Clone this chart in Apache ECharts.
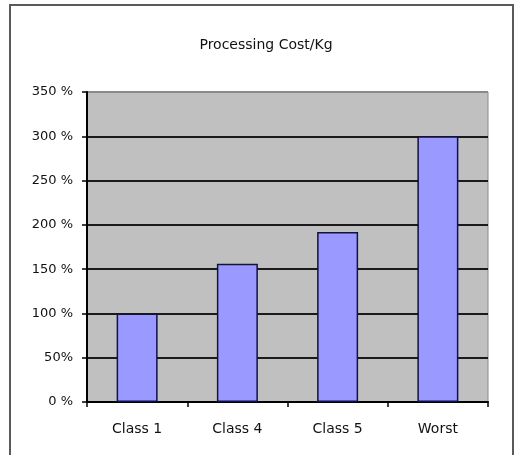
<!DOCTYPE html>
<html>
<head>
<meta charset="utf-8">
<style>
  html, body { margin: 0; padding: 0; background: #ffffff; }
  #chart { width: 515px; height: 455px; }
</style>
<script src="https://cdn.jsdelivr.net/npm/echarts@6/dist/echarts.min.js"></script>
</head>
<body>
<div id="chart"></div>
<script>
// Relative processing cost per kilogram, by class
const categories = ['Class 1', 'Class 4', 'Class 5', 'Worst'];
const costValues = [1.00, 1.56, 1.92, 3.00];
const yTickLabels = ['0 %', '50%', '100 %', '150 %', '200 %', '250 %', '300 %', '350 %'];

const chart = echarts.init(document.getElementById('chart'), null, { renderer: 'canvas' });

const splitColors = yTickLabels.map((_, i) => i === yTickLabels.length - 1 ? '#8a8a8a' : '#1a1a1a');

chart.setOption({
  backgroundColor: '#ffffff',
  animation: false,
  title: {
    text: 'Processing Cost/Kg',
    left: 261,
    textAlign: 'center',
    top: 33,
    textStyle: { fontFamily: 'DejaVu Sans', fontSize: 14, fontWeight: 'normal', color: '#111111' }
  },
  graphic: [{
    type: 'rect',
    shape: { x: 10, y: 5, width: 503, height: 470 },
    style: { fill: 'none', stroke: '#5a5a5a', lineWidth: 2 },
    silent: true
  }],
  grid: {
    left: 87, right: 27, top: 92, bottom: 53,
    show: true,
    backgroundColor: '#c0c0c0',
    borderColor: '#8a8a8a',
    borderWidth: 1
  },
  xAxis: {
    type: 'category',
    data: categories,
    axisLine: { lineStyle: { color: '#000000', width: 2 } },
    axisTick: { show: true, length: 5, lineStyle: { color: '#000000', width: 1.5 } },
    axisLabel: { fontFamily: 'DejaVu Sans', fontSize: 14, color: '#111111', margin: 20 }
  },
  yAxis: {
    type: 'value',
    min: 0,
    max: 3.5,
    interval: 0.5,
    axisLine: { show: true, lineStyle: { color: '#000000', width: 2 } },
    axisTick: { show: true, length: 5, lineStyle: { color: '#000000', width: 1.5 } },
    axisLabel: {
      fontFamily: 'DejaVu Sans', fontSize: 13, color: '#111111', margin: 14,
      formatter: (v) => yTickLabels[Math.round(v / 0.5)]
    },
    splitLine: { show: true, lineStyle: { color: splitColors, width: 2 } }
  },
  series: [{
    type: 'bar',
    data: costValues,
    barWidth: 41,
    itemStyle: { color: '#9999ff', borderColor: '#10104a', borderWidth: 1.5 }
  }]
});
</script>
</body>
</html>
